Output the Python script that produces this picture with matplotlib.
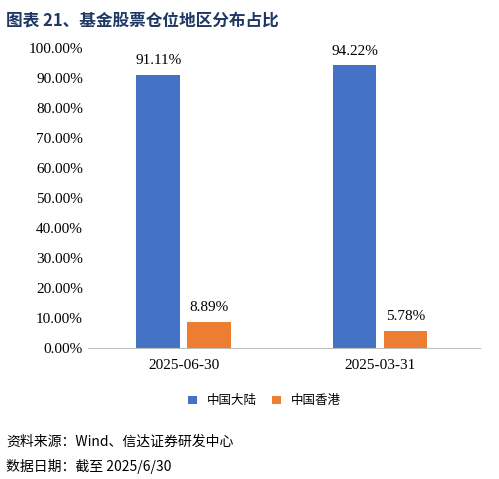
import matplotlib
matplotlib.use("Agg")
import matplotlib.pyplot as plt
import numpy as np

categories = ["2025-06-30", "2025-03-31"]
series_names = ["中国大陆", "中国香港"]
mainland = [91.11, 94.22]
hongkong = [8.89, 5.78]
colors = ["#4472C4", "#ED7D31"]

plt.rcParams['font.family'] = ['Liberation Serif', 'Noto Sans CJK SC', 'DejaVu Sans']

fig = plt.figure(figsize=(4.99, 4.79), dpi=100)
ax = fig.add_axes([0.176, 0.273, 0.786, 0.627])
x = np.arange(len(categories))
w = 0.224
off = 0.13
b1 = ax.bar(x - off, mainland, w, color=colors[0], label=series_names[0])
b2 = ax.bar(x + off, hongkong, w, color=colors[1], label=series_names[1])
for bars, vals in ((b1, mainland), (b2, hongkong)):
    for r, v in zip(bars, vals):
        ax.text(r.get_x() + r.get_width() / 2, v + 2.5, f"{v:.2f}%", ha="center", va="bottom", fontsize=11)
ax.set_xlim(-0.49, 1.51)
ax.set_ylim(0, 100)
ax.set_yticks(np.arange(0, 101, 10))
ax.set_yticklabels([f"{t:.2f}%" for t in np.arange(0, 101, 10)], fontsize=11)
ax.set_xticks(x)
ax.set_xticklabels(categories, fontsize=11)
for s in ["top", "right", "left"]:
    ax.spines[s].set_visible(False)
ax.spines["bottom"].set_color("#BFBFBF")
ax.tick_params(axis="both", length=0)
ax.tick_params(axis="x", pad=8)
fig.legend(handles=[b1, b2], labels=series_names, loc="center", bbox_to_anchor=(0.53, 0.163),
           ncol=2, frameon=False, handlelength=0.7, handleheight=0.7, columnspacing=1.2,
           prop={'family': ['Noto Sans CJK SC'], 'size': 9})
fig.text(0.012, 0.975, "图表 21、基金股票仓位地区分布占比", fontsize=12, fontweight="bold",
         color="#1F3864", va="top", family=['Noto Sans CJK SC'])
fig.text(0.012, 0.078, "资料来源：Wind、信达证券研发中心", fontsize=10, style="italic", va="center",
         family=['Noto Sans CJK SC'])
fig.text(0.012, 0.027, "数据日期：截至 2025/6/30", fontsize=10, style="italic", va="center",
         family=['Noto Sans CJK SC'])
fig.savefig("out.png", dpi=100)
